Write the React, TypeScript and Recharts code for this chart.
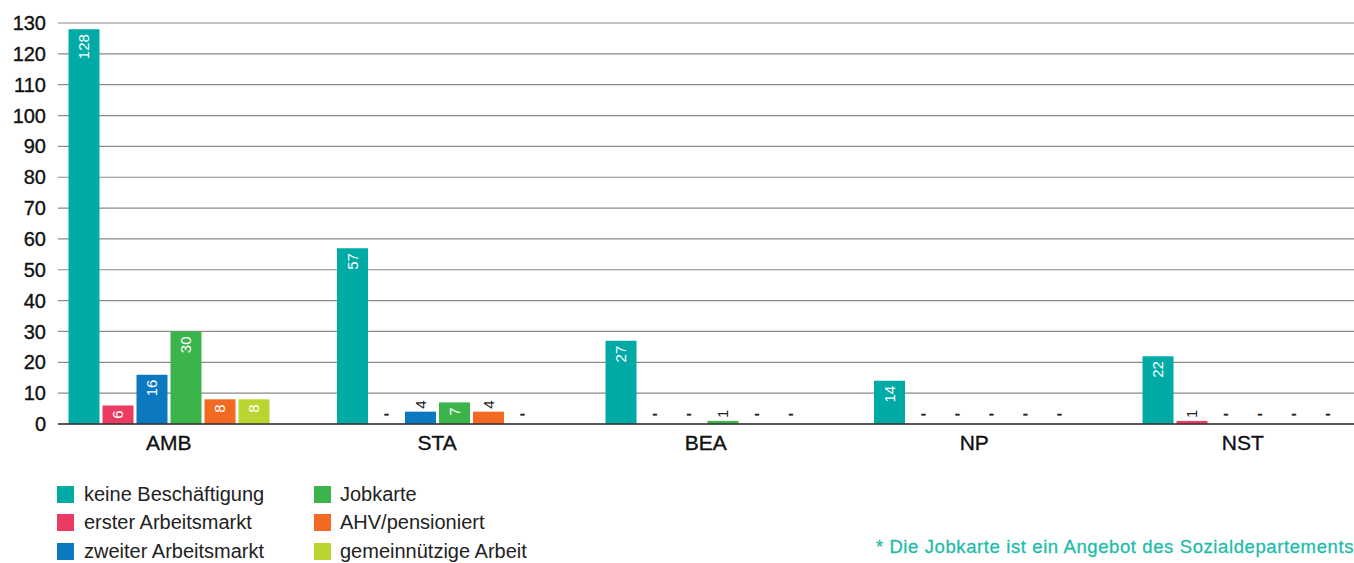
import React from 'react'
import { BarChart, Bar, XAxis, YAxis, CartesianGrid, LabelList } from 'recharts'

const categories = ['AMB', 'STA', 'BEA', 'NP', 'NST']
const keineBeschaeftigung = [128, 57, 27, 14, 22]
const ersterArbeitsmarkt = [6, 0, 0, 0, 1]
const zweiterArbeitsmarkt = [16, 4, 0, 0, 0]
const jobkarte = [30, 7, 1, 0, 0]
const ahvPensioniert = [8, 4, 0, 0, 0]
const gemeinnuetzigeArbeit = [8, 0, 0, 0, 0]
const yTicks = [0, 10, 20, 30, 40, 50, 60, 70, 80, 90, 100, 110, 120, 130]

const series = [
  { key: 'keine', name: 'keine Beschäftigung', color: '#00aba5', values: keineBeschaeftigung },
  { key: 'erster', name: 'erster Arbeitsmarkt', color: '#ec3b63', values: ersterArbeitsmarkt },
  { key: 'zweiter', name: 'zweiter Arbeitsmarkt', color: '#0b78c0', values: zweiterArbeitsmarkt },
  { key: 'jobkarte', name: 'Jobkarte', color: '#3bb54b', values: jobkarte },
  { key: 'ahv', name: 'AHV/pensioniert', color: '#f26a22', values: ahvPensioniert },
  { key: 'gemein', name: 'gemeinnützige Arbeit', color: '#bcd432', values: gemeinnuetzigeArbeit },
]

const data = categories.map((cat, i) => {
  const row: any = { cat }
  series.forEach(s => { row[s.key] = s.values[i] })
  return row
})

const FONT = '"Liberation Sans", Arial, sans-serif'

// zero values get a tiny bar so the "-" label still has a position
const minSize = (value: any) => (value === 0 ? 0.01 : 0)

const renderLabel = (props: any) => {
  const { x, y, width, height, value } = props
  const cx = Number(x) + Number(width) / 2
  const top = Math.min(Number(y), Number(y) + Number(height))
  const base = Math.max(Number(y), Number(y) + Number(height))
  if (!value) {
    return (
      <text x={cx} y={base - 5} textAnchor="middle" fontSize={16} fill="#222" stroke="#222" strokeWidth={0.4}
        fontFamily={FONT}>-</text>
    )
  }
  if (value >= 6) {
    const ty = top + 5
    return (
      <text x={cx} y={ty} transform={`rotate(-90 ${cx} ${ty})`} textAnchor="end" dominantBaseline="central"
        fontSize={15} fill="#fff" fontFamily={FONT}>{value}</text>
    )
  }
  const ty = top - 3
  return (
    <text x={cx} y={ty} transform={`rotate(-90 ${cx} ${ty})`} textAnchor="start" dominantBaseline="central"
      fontSize={15} fill="#222" fontFamily={FONT}>{value}</text>
  )
}

export default function App() {
  const col1 = series.slice(0, 3)
  const col2 = series.slice(3)
  return (
    <div style={{ position: 'absolute', left: 0, top: 0, width: 1354, height: 563, overflow: 'hidden', background: '#fff', fontFamily: FONT }}>
      <BarChart width={1377} height={460} data={data} margin={{ top: 23, right: 0, left: 0, bottom: 0 }}
        barSize={31} barGap={3}>
        <CartesianGrid vertical={false} stroke="#8a8a8a" strokeWidth={1.2} />
        <XAxis dataKey="cat" height={36} padding={{ left: -23.5, right: 0 }} tickLine={false}
          axisLine={{ stroke: '#333', strokeWidth: 1.5 }}
          tick={{ fill: '#111', stroke: '#111', strokeWidth: 0.35, fontSize: 21, fontFamily: FONT }} tickMargin={5} />
        <YAxis width={58} domain={[0, 130]} ticks={yTicks} interval={0} tickLine={false} axisLine={false}
          tickMargin={6} tick={{ fill: '#111', stroke: '#111', strokeWidth: 0.35, fontSize: 20, fontFamily: FONT }} />
        {series.map(s => (
          <Bar key={s.key} dataKey={s.key} name={s.name} fill={s.color} isAnimationActive={false} minPointSize={minSize}>
            <LabelList dataKey={s.key} content={renderLabel} />
          </Bar>
        ))}
      </BarChart>
      {[col1, col2].map((col, ci) => (
        <div key={ci} style={{ position: 'absolute', left: ci === 0 ? 57 : 314, top: 480 }}>
          {col.map(s => (
            <div key={s.key} style={{ display: 'flex', alignItems: 'center', height: 28.5 }}>
              <span style={{ width: 17, height: 17, background: s.color, display: 'inline-block' }} />
              <span style={{ marginLeft: ci === 0 ? 10 : 9, fontSize: 20, color: '#222' }}>{s.name}</span>
            </div>
          ))}
        </div>
      ))}
      <div style={{ position: 'absolute', right: 0, top: 536, fontSize: 18.5, letterSpacing: 0.6, color: '#1fbca8', whiteSpace: 'nowrap', WebkitTextStroke: '0.3px #1fbca8' }}>
        * Die Jobkarte ist ein Angebot des Sozialdepartements
      </div>
    </div>
  )
}
